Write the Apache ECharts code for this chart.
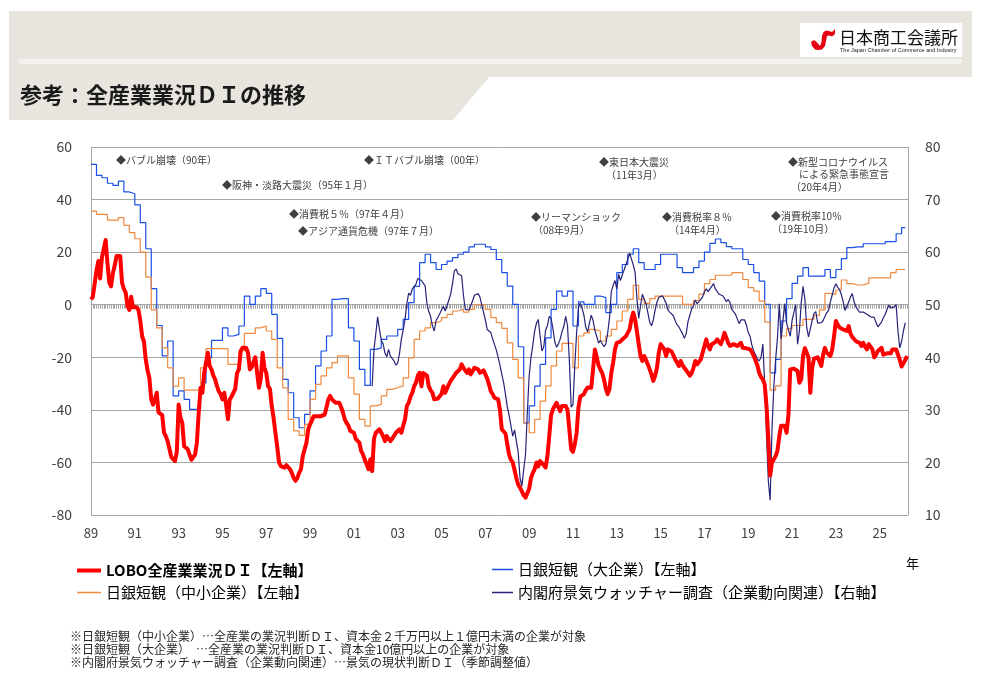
<!DOCTYPE html>
<html>
<head>
<meta charset="utf-8">
<title>参考：全産業業況ＤＩの推移</title>
<script src="https://cdn.jsdelivr.net/npm/echarts@6/dist/echarts.min.js"></script>
<style>
  html, body { margin: 0; padding: 0; background: #fff; }
  #chart { width: 981px; height: 673px; }
</style>
</head>
<body>
<div id="chart"></div>
<script>
var FONT = '"Noto Sans CJK JP", "Noto Sans", sans-serif';

// x axis: months counted from 1989-01
var startYear = 1989;
var yearLabels = ['89', '91', '93', '95', '97', '99', '01', '03', '05', '07', '09',
  '11', '13', '15', '17', '19', '21', '23', '25'];

// LOBO 全産業業況DI (monthly, 1989-01 .. 2026-04)
var loboDI = [
  2, 3, 8, 13, 16.6, 10, 18, 18.5, 24.6, 16, 8.4, 7,
  12, 15, 18.5, 18.5, 18.5, 8.4, 6, 4.6, -0.5, -2, 3, -1,
  -0.5, -1, -2, -6, -12, -14, -21, -25, -28, -36, -38, -36,
  -33.5, -41, -41.5, -42, -48.7, -50, -52, -55, -58, -58.5, -59.5, -56,
  -38, -43, -45, -53.8, -54, -55, -55.7, -59, -58, -57, -52.5, -41,
  -31.6, -33.5, -26, -22, -18.3, -23.3, -24.6, -27, -28.4, -31, -33, -34,
  -36, -33.5, -38, -43.6, -36, -35, -34.7, -32, -26, -24.6, -17.6, -16.4,
  -15.7, -16.5, -18.3, -24.6, -23.8, -23.3, -20, -26, -31.6, -28, -18.3, -24,
  -26, -31, -32, -38.5, -43, -48.7, -54, -60, -61.4, -61.5, -62, -61,
  -60.7, -62.6, -64, -65.8, -67, -66, -64, -62.6, -57.6, -55, -52.5, -47.4,
  -45.5, -44, -42.4, -42.4, -42.4, -42.4, -42.4, -42, -41.8, -39, -36, -34.7,
  -36, -36.5, -37.3, -37.3, -37.3, -39, -41, -43.6, -45, -46, -48, -48.3,
  -48.7, -51, -51.5, -52.5, -55.7, -57, -59, -60.7, -62.6, -58.8, -63.3, -51,
  -48.7, -48, -47.4, -48.7, -50, -51.9, -50, -51, -51.9, -51, -50.6, -48.7,
  -48, -47.4, -48.7, -46, -43.6, -38.5, -37.3, -35, -33.5, -31, -29.7, -27,
  -25.9, -31, -26, -25.9, -27, -31, -32.5, -33.5, -36, -35.4, -35.7, -36,
  -34, -31, -33.5, -33.5, -30.3, -29, -28.4, -27, -25.9, -25.5, -24.6, -22.7,
  -24, -25, -25.9, -24.6, -26.5, -25.9, -24, -24.3, -24.6, -25.9, -25.2, -25,
  -24.6, -28, -30.3, -33, -34, -35.4, -35.7, -36, -40, -47.4, -48, -49,
  -53, -57, -59, -60, -63, -66, -68.5, -69.6, -71, -72.5, -73.4, -72.8,
  -70, -66, -64, -62.6, -60, -61.5, -59.5, -60.2, -61, -61.9, -57.6, -50,
  -42, -39.8, -39.8, -37.3, -39, -40.5, -38.5, -38, -38.5, -40, -47.4, -55,
  -56, -53, -48.7, -39, -35, -34.5, -34, -32.5, -31.5, -31, -31.6, -24.6,
  -17, -20, -23, -24.6, -26, -28.4, -32, -34, -32, -25.9, -22, -17,
  -14.5, -15, -14, -13.2, -12.8, -12, -10.7, -9.4, -5.6, -3, -5.6, -10,
  -15, -19.5, -21.4, -19.5, -21, -22.7, -24.6, -26.5, -29, -27, -24, -18.3,
  -15, -14.5, -17, -19.5, -17, -17.6, -17.8, -18.3, -20.8, -22, -23.3, -21.4,
  -23, -24, -24.6, -25.9, -27, -26, -24, -21.4, -22.7, -22, -20.8, -18.3,
  -15.7, -13.2, -15.7, -17, -15, -14.5, -14.2, -13.2, -14.2, -15, -13, -10.7,
  -11, -14.5, -15.7, -15.3, -15, -14.5, -15.7, -15, -14.5, -16.4, -17, -16.6,
  -16.4, -17, -18, -19.5, -20, -23, -25.9, -27.5, -28.4, -30.3, -38.5, -51,
  -65, -60, -58.8, -57.6, -55.5, -50, -46, -45.6, -46, -48.7, -42, -24.6,
  -24.6, -24.3, -24, -25.2, -29.7, -28.4, -19.5, -16.5, -17, -20, -33.5, -24,
  -20.5, -20.8, -20, -19.5, -23.3, -19, -16.4, -18.3, -18.8, -19.5, -17, -12,
  -6.2, -7.5, -8.7, -8.7, -9.4, -9.8, -10, -8.1, -11, -12.3, -12.8, -13.9,
  -13.2, -14.5, -15.7, -14.5, -16, -17, -15, -15.7, -17, -20, -19, -17.6,
  -17, -16.4, -19, -18.5, -18.5, -18.5, -18.5, -17, -17.5, -17, -19, -21,
  -23.5, -23, -21, -19.5
];

// 日銀短観 業況判断DI (quarterly, 1989Q1 ..)
var tankanLarge = [
  53.4, 49.2, 48.3, 46.2, 45.4, 47, 42.9, 42.2, 38, 31.2, 21.3, 6.1,
  -7.9, -19.5, -13.8, -34.7, -32.8, -36, -39.8, -39.8, -29.7, -20.2, -13.6, -13.6,
  -8.8, -11.9, -11.3, -8.1, 3.3, 0.1, 3.3, 6.1, 4.3, -3.7, -12.8, -28.4,
  -33.5, -43, -46.8, -41.7, -32.8, -23.3, -17.6, -11.9, 2, 2.3, 2.3, -8.8,
  -13.8, -24.6, -30.7, -17, -16.4, -13.2, -11.9, -11.9, -9.4, -5.6, 0.8, 7,
  16, 19.2, 16, 13.4, 15.3, 16.6, 17.9, 19.2, 20, 22, 23, 23,
  22, 21, 17.2, 12.2, 7.1, 0.1, -16, -45, -38.5, -31, -22.7, -12.6,
  -1.8, 5.2, 3.3, 5.2, -8.1, 1.1, 0.1, 0.1, 3.3, 2.7, -3, 0.1,
  12.2, 15.3, 19.2, 21.3, 16, 13.4, 13.4, 15.3, 19.2, 19.2, 19.2, 14.1,
  12.2, 12.2, 14.1, 16.6, 20, 23.3, 25, 23.6, 22.1, 21.3, 21.3, 17.2,
  15.3, 12.2, 9, 0.1, -25.9, -20.8, -6.2, 2.3, 8.1, 10.9, 14.1, 10.9,
  10.9, 10.9, 13.4, 10.3, 13.4, 17.5, 21.7, 22, 22, 23.2, 23.2, 23.2,
  23.2, 24, 24, 27, 29.3
];
var tankanSmall = [
  35.6, 34.4, 34.4, 32.2, 32.2, 33.1, 30.2, 27.4, 25.1, 20, 10.5, -2,
  -8.8, -16.4, -24, -31, -27.8, -32.5, -32.5, -32.5, -24, -16.7, -16.7, -16.7,
  -16.7, -22.7, -22.7, -17.6, -10.9, -10.9, -8.8, -8.1, -10, -13.2, -24, -31.6,
  -43.6, -48, -49.7, -45.5, -36, -30.3, -27.1, -24, -22, -19.5, -19.5, -27.8,
  -34, -43.6, -46.2, -38.5, -37.9, -34.7, -32.2, -31.6, -30.9, -27.8, -20.2, -13.2,
  -10, -8.8, -6.8, -6.2, -4.9, -3.7, -2.4, -1.8, -2.8, -1.8, -0.1, -0.1,
  -1.8, -4.9, -6.8, -9, -14.5, -20.8, -27.8, -44.9, -48.7, -43.6, -36.7, -30.9,
  -23.3, -17.6, -14.7, -14.7, -24, -11.9, -10.7, -9.4, -10, -13.8, -11.9, -9.4,
  -6.2, -2.4, 2, 7.4, 2, 0.5, 2.3, 3.3, 3.3, 3.3, 3.3, 3.3,
  0.1, 0.1, 1.6, 4, 8, 9.6, 11.2, 11.2, 11.2, 12.2, 12.2, 9.6,
  6.5, 5.2, 1.4, -6.6, -32.5, -30.9, -11.9, -9.1, -7.9, -7.9, -5.6, -5.6,
  -4.1, -2, 4.3, 3.9, 5.6, 9.4, 8, 7.5, 7.5, 8.2, 10.2, 10.2,
  10.2, 10.2, 12.2, 13.4, 13.4
];

// 内閣府景気ウォッチャー調査 企業動向関連 (monthly, right axis)
var watcherStart = '2001-11';
var watcherDI = [
  34.5, 41.5,
  44.5, 47.7, 45.3, 43.2, 42.6, 40.8, 40.1, 41.5, 40.2, 40.4, 39.3, 38.5,
  38.9, 40.8, 43.5, 45.2, 47.2, 50.2, 52.2, 51.8, 53, 53, 53.9, 55,
  55.2, 54.6, 54.8, 53.6, 50.2, 48.7, 47.8, 46, 45, 47, 47.6, 48.3,
  49, 49.7, 48.8, 49.8, 50.9, 52, 54, 56.4, 56.8, 55.9, 55.8, 55.5,
  51.8, 49.1, 48.8, 49, 48.8, 50.7, 51.8, 52.1, 52.1, 51.5, 50, 48.6,
  47.1, 45.3, 45, 44.7, 43.5, 42.4, 41.4, 40, 38.5, 36.8, 35.2, 33,
  30.6, 29, 27, 25, 26.2, 24, 21.9, 17, 15.5, 18.6, 21.5, 29.5,
  36.5, 40, 42.3, 45, 46.5, 47.2, 44, 41.2, 42, 45.2, 46, 47.8,
  47.4, 45.5, 43, 41.9, 42.5, 43.5, 44.9, 45.9, 47.8, 46, 39.5, 30.5,
  31, 38.5, 44.7, 49.4, 50.3, 49.3, 48, 45.7, 44.8, 46.5, 48, 47,
  45.1, 44, 42.7, 43.2, 43, 42, 42.5, 44.6, 47.5, 52.5, 53.7, 54.6,
  53, 55.8, 54.6, 55.7, 56.6, 57.6, 58.6, 59.8, 59.5, 57.6, 56.2, 51.3,
  47.4, 49.8, 52, 52.2, 50.2, 48.5, 46.7, 46, 47.1, 49, 50.5, 51.4,
  51.2, 51.7, 51.4, 50.3, 49, 48.6, 48.3, 47.9, 46.9, 46.2, 45.8, 45.1,
  44.5, 43.6, 44.5, 46.8, 48, 49.2, 49.8, 50.9, 50.2, 50.6, 51, 51.5,
  52.5, 53, 52.5, 53, 53.5, 54, 53, 53, 52, 51.8, 51.7, 51.2,
  50.6, 51, 50.4, 49.1, 49.2, 48.2, 47.3, 46.4, 47.1, 47.2, 47.1, 46.1,
  44.7, 44, 42.3, 41.2, 41.5, 39.7, 39.3, 40, 42.5, 35, 25.1, 16.5,
  12.8, 26.3, 34.4, 39.6, 43.7, 50.2, 43.5, 43.5, 50.2, 46.5, 46.3, 44,
  47, 47, 50, 42.5, 44.9, 50.3, 53.5, 51.1, 45.8, 43.9, 45.4, 47,
  48.3, 48.7, 46.5, 46.6, 46.6, 47, 47.1, 48.5, 48.9, 50.6, 51.9, 53.2,
  54, 53.3, 52.9, 51.9, 50.6, 48.9, 49.1, 50.5, 51.5, 52.1, 50.5, 49.6,
  49, 48.6, 48.9, 48.6, 48.8, 48.2, 48.4, 47.7, 47.6, 47.6, 46.6, 45.8,
  45.9, 46.7, 47.5, 48.2, 49.1, 49.9, 49.4, 49.5, 49.6, 50, 45, 41.8,
  43, 45, 46.6
];

var seriesNames = [
  'LOBO全産業業況ＤＩ【左軸】',
  '日銀短観（大企業）【左軸】',
  '日銀短観（中小企業）【左軸】',
  '内閣府景気ウォッチャー調査（企業動向関連）【右軸】'
];

function monthIndex(ym) {
  var p = ym.split('-');
  return (Number(p[0]) - startYear) * 12 + Number(p[1]) - 1;
}
function monthly(arr, offset) {
  return arr.map(function (v, i) { return [offset + i, v]; });
}
// quarterly values held flat until the next survey
function quarterly(arr) {
  var pts = arr.map(function (v, k) { return [3 * k, v]; });
  pts.push([3 * (arr.length - 1) + 2, arr[arr.length - 1]]);
  return pts;
}

function txt(text, x, y, size, extra) {
  return {
    type: 'text', x: x, y: y, z: 50, silent: true,
    style: Object.assign({
      text: text, fontSize: size, fontFamily: FONT, fill: '#404040',
      verticalAlign: 'middle', align: 'left'
    }, extra || {})
  };
}

function legendBox(name, left, top, w, h, bold) {
  return {
    data: [name], left: left, top: top, padding: 0, icon: 'rect',
    itemWidth: w, itemHeight: h, selectedMode: false,
    textStyle: { fontSize: 15, fontWeight: bold ? 'bold' : 'normal', color: '#000', fontFamily: FONT }
  };
}

var chartDom = document.getElementById('chart');
var chart = echarts.init(chartDom, null, { renderer: 'canvas' });

var axisGray = '#a6a6a6';
var option = {
  animation: false,
  backgroundColor: '#fff',
  textStyle: { fontFamily: FONT },
  grid: { left: 91, right: 73, top: 147, bottom: 158, containLabel: false },
  xAxis: [
    {
      type: 'value', min: 0, max: 447.5, interval: 24, position: 'bottom',
      axisLine: { show: false, onZero: false },
      axisTick: { show: false },
      splitLine: { show: false },
      axisLabel: {
        showMaxLabel: false, margin: 12, fontSize: 13, color: '#404040', fontFamily: FONT,
        formatter: function (v) { return yearLabels[v / 24] || ''; }
      }
    },
    {
      // zero line with monthly tick marks
      type: 'value', min: 0, max: 447.5, interval: 1, position: 'top',
      axisLine: { show: true, onZero: true, lineStyle: { color: axisGray, width: 1 } },
      axisTick: { show: true, inside: true, length: 4, lineStyle: { color: axisGray, width: 1 } },
      axisLabel: { show: false },
      splitLine: { show: false }
    }
  ],
  yAxis: [
    {
      type: 'value', min: -80, max: 60, interval: 20, position: 'left',
      axisLine: { show: true, onZero: false, lineStyle: { color: axisGray } },
      axisTick: { show: false },
      axisLabel: { margin: 19, fontSize: 14, color: '#404040', fontFamily: FONT },
      splitLine: { show: true, lineStyle: { color: axisGray, width: 1 } }
    },
    {
      type: 'value', min: 10, max: 80, interval: 10, position: 'right',
      axisLine: { show: true, onZero: false, lineStyle: { color: axisGray } },
      axisTick: { show: false },
      axisLabel: { margin: 17, fontSize: 14, color: '#404040', fontFamily: FONT },
      splitLine: { show: false }
    }
  ],
  legend: [
    legendBox(seriesNames[0], 77, 563, 24, 4, true),
    legendBox(seriesNames[1], 492, 562, 21, 1.5, false),
    legendBox(seriesNames[2], 77, 585, 24, 1.5, false),
    legendBox(seriesNames[3], 492, 585, 21, 1.5, false)
  ],
  series: [
    {
      name: seriesNames[1], type: 'line', step: 'end', xAxisIndex: 0, yAxisIndex: 0,
      data: quarterly(tankanLarge), symbol: 'none', z: 3,
      itemStyle: { color: '#1a4fe6' }, lineStyle: { color: '#1a4fe6', width: 1.2 }
    },
    {
      name: seriesNames[2], type: 'line', step: 'end', xAxisIndex: 0, yAxisIndex: 0,
      data: quarterly(tankanSmall), symbol: 'none', z: 3,
      itemStyle: { color: '#f08a3e' }, lineStyle: { color: '#f08a3e', width: 1.2 }
    },
    {
      name: seriesNames[3], type: 'line', xAxisIndex: 0, yAxisIndex: 1,
      data: monthly(watcherDI, monthIndex(watcherStart)), symbol: 'none', z: 4,
      itemStyle: { color: '#27237a' }, lineStyle: { color: '#27237a', width: 1.2 }
    },
    {
      name: seriesNames[0], type: 'line', xAxisIndex: 0, yAxisIndex: 0,
      data: monthly(loboDI, 0), symbol: 'none', z: 5,
      itemStyle: { color: '#ff0000' }, lineStyle: { color: '#ff0000', width: 4, join: 'round' }
    }
  ],
  graphic: [
    // header
    { type: 'rect', z: 1, silent: true, shape: { x: 9, y: 11, width: 963, height: 66 }, style: { fill: '#e8e4de' } },
    { type: 'rect', z: 2, silent: true, shape: { x: 19, y: 59, width: 943, height: 5 }, style: { fill: '#f4f2ef' } },
    { type: 'polygon', z: 1, silent: true, shape: { points: [[9, 76], [490, 76], [453, 120], [9, 120]] }, style: { fill: '#e8e4de' } },
    txt('参考：全産業業況ＤＩの推移', 20, 95, 22, { fontWeight: 'bold', fill: '#1a1a1a' }),
    // logo
    { type: 'rect', z: 3, silent: true, shape: { x: 800, y: 23, width: 162, height: 34 }, style: { fill: '#ffffff' } },
    {
      type: 'polygon', z: 4, silent: true,
      shape: {
        points: [[811, 42], [813, 40.5], [815, 40.5], [817, 42.5], [820, 46], [821.5, 42], [822, 36],
          [823.5, 32], [826, 30.5], [829, 31], [832, 32], [835, 29], [835, 34], [832, 36.5],
          [829, 35.5], [827, 36], [826, 41], [825, 46], [822, 49.5], [819, 50], [815, 49.5], [812, 46]]
      },
      style: { fill: '#e60012' }
    },
    txt('日本商工会議所', 839, 38, 17, { fill: '#111' }),
    txt('The Japan Chamber of Commerce and Industry', 840, 50, 5.5, { fill: '#222', fontFamily: 'Liberation Sans, sans-serif' }),
    // events
    txt('◆バブル崩壊（90年）', 116, 160, 10),
    txt('◆阪神・淡路大震災（95年１月）', 222, 185, 10),
    txt('◆ＩＴバブル崩壊（00年）', 364, 160, 10),
    txt('◆消費税５％（97年４月）', 289, 214, 10),
    txt('◆アジア通貨危機（97年７月）', 298, 231, 10),
    txt('◆東日本大震災', 599, 162, 10),
    txt('（11年3月）', 606, 175, 10),
    txt('◆リーマンショック', 531, 217, 10),
    txt('（08年9月）', 533, 230, 10),
    txt('◆消費税率８％', 662, 217, 10),
    txt('（14年4月）', 669, 230, 10),
    txt('◆消費税率10％', 771, 216, 10),
    txt('（19年10月）', 772, 229, 10),
    txt('◆新型コロナウイルス', 788, 162, 10),
    txt('による緊急事態宣言', 799, 174, 10),
    txt('（20年4月）', 791, 187, 10),
    // axis unit
    txt('年', 906, 563, 13, { fill: '#000' }),
    // notes
    txt('※日銀短観（中小企業）…全産業の業況判断ＤＩ、資本金２千万円以上１億円未満の企業が対象', 70, 636, 12, { fill: '#262626' }),
    txt('※日銀短観（大企業）　…全産業の業況判断ＤＩ、資本金10億円以上の企業が対象', 70, 649, 12, { fill: '#262626' }),
    txt('※内閣府景気ウォッチャー調査（企業動向関連）…景気の現状判断ＤＩ（季節調整値）', 70, 662, 12, { fill: '#262626' })
  ]
};

chart.setOption(option);
window.addEventListener('resize', chart.resize);
</script>
</body>
</html>
